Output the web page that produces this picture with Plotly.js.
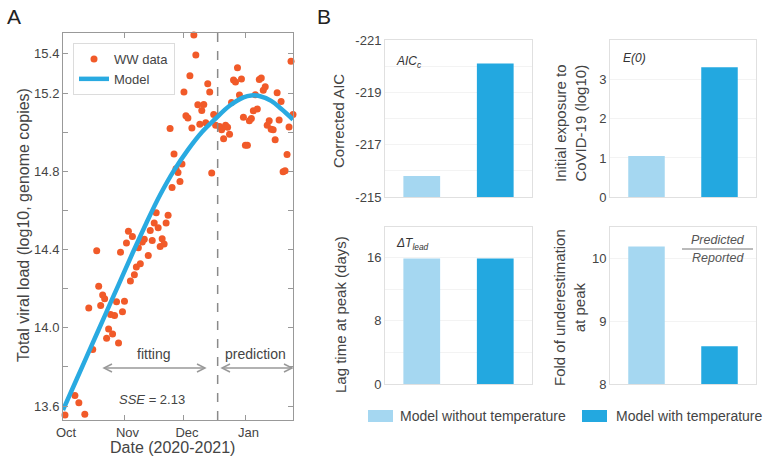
<!DOCTYPE html>
<html>
<head>
<meta charset="utf-8">
<script src="https://cdn.plot.ly/plotly-3.0.1.min.js"></script>
<style>
  html, body { margin: 0; padding: 0; background: white; }
  #chart { width: 768px; height: 461px; }
</style>
</head>
<body>
<div id="chart"></div>
<script>
/* ── Panel A data: wastewater viral load (log10 genome copies) ── */
const WW_DATES = [
  '2020-10-02','2020-10-05','2020-10-07','2020-10-09','2020-10-12','2020-10-14','2020-10-16','2020-10-18',
  '2020-10-19','2020-10-20','2020-10-21','2020-10-22','2020-10-23','2020-10-24','2020-10-25','2020-10-26',
  '2020-10-27','2020-10-28','2020-10-29','2020-10-30','2020-10-31','2020-11-01','2020-11-02','2020-11-03',
  '2020-11-04','2020-11-05','2020-11-06','2020-11-07','2020-11-08','2020-11-09','2020-11-10','2020-11-11',
  '2020-11-13','2020-11-14','2020-11-15','2020-11-16','2020-11-18','2020-11-17','2020-11-19','2020-11-20',
  '2020-11-21','2020-11-22','2020-11-23','2020-11-24','2020-11-25','2020-11-26','2020-11-27','2020-11-28',
  '2020-11-29','2020-11-30','2020-12-01','2020-12-02','2020-12-03','2020-12-04','2020-12-05','2020-12-06',
  '2020-12-07','2020-12-08','2020-12-09','2020-12-10','2020-12-11','2020-12-12','2020-12-13','2020-12-14',
  '2020-12-15','2020-12-16','2020-12-17','2020-12-19','2020-12-20','2020-12-21','2020-12-22','2020-12-23',
  '2020-12-24','2020-12-25','2020-12-26','2020-12-27','2020-12-28','2020-12-29','2020-12-30','2020-12-31',
  '2021-01-01','2021-01-02','2021-01-03','2021-01-04','2021-01-05','2021-01-06','2021-01-07','2021-01-08',
  '2021-01-09','2021-01-10','2021-01-11','2021-01-12','2021-01-13','2021-01-14','2021-01-15','2021-01-16',
  '2021-01-17','2021-01-18','2021-01-19','2021-01-20','2021-01-21','2021-01-22','2021-01-23','2021-01-24',
  '2021-01-25'
];
const WW_LOAD = [
  13.554, 13.525, 13.654, 13.617, 13.559, 14.101, 13.889, 14.394,
  14.213, 14.114, 14.168, 14.149, 13.947, 13.994, 14.068, 13.969,
  14.063, 14.134, 13.922, 14.387, 14.082, 14.136, 14.434, 14.494,
  14.240, 14.467, 14.272, 14.311, 14.410, 14.328, 14.439, 14.453,
  14.370, 14.498, 14.447, 14.536, 14.512, 14.588, 14.416, 14.455,
  14.428, 14.536, 14.576, 15.019, 14.717, 14.889, 14.813, 14.794,
  14.748, 14.838, 15.205, 15.084, 15.072, 15.288, 15.021, 15.497,
  15.395, 15.140, 15.041, 15.111, 15.142, 15.048, 15.247, 15.205,
  14.792, 15.090, 15.035, 15.029, 15.012, 14.967, 15.036, 15.025,
  14.989, 15.152, 15.267, 15.256, 15.330, 15.190, 15.272, 15.077,
  14.933, 14.933, 15.059, 15.070, 15.110, 15.191, 15.119, 15.269,
  15.277, 15.215, 15.232, 15.035, 15.059, 15.015, 15.013, 14.961,
  15.201, 15.062, 15.157, 14.798, 14.803, 14.886, 15.026, 15.363,
  15.091
];

/* model fit (smooth curve) */
const MODEL_DATES = [
  '2020-10-01','2020-10-08','2020-10-15','2020-10-22','2020-10-29','2020-11-05','2020-11-12',
  '2020-11-19','2020-11-26','2020-12-03','2020-12-10','2020-12-17','2020-12-24','2020-12-31',
  '2021-01-04','2021-01-08','2021-01-14','2021-01-19','2021-01-25'
];
const MODEL_LOAD = [
  13.58, 13.74, 13.90, 14.06, 14.22, 14.38, 14.535,
  14.68, 14.805, 14.91, 15.00, 15.07, 15.135, 15.178,
  15.188, 15.185, 15.16, 15.12, 15.065
];

const SPLIT_DATE = '2020-12-18';   // fitting | prediction

const A_YTICKS = [13.6, 14.0, 14.4, 14.8, 15.2, 15.4];
const A_XTICKS = ['2020-10-01', '2020-11-01', '2020-12-01', '2021-01-01'];
const A_XTEXT  = ['Oct', 'Nov', 'Dec', 'Jan'];

/* ── Panel B data ── */
const MODELS = ['Model without temperature', 'Model with temperature'];
const AICC   = [-215.8, -220.1];
const E0     = [1.05, 3.32];
const LAG    = [15.9, 15.9];
const FOLD   = [10.19, 8.6];
const AIC_TICKS = [-221, -219, -217, -215];

const COL_LIGHT = '#a5d7f1';
const COL_DARK  = '#23a8e0';
const COL_PTS   = '#f15a29';
const FONT = 'Arial, "Liberation Sans", sans-serif';
const W = 768, H = 461;

/* pixel -> paper helpers (margins are zero, so paper == figure) */
const px = v => v / W;
const py = v => 1 - v / H;

/* ── traces ── */
const traces = [
  {
    type: 'scatter', mode: 'markers', name: 'WW data',
    x: WW_DATES, y: WW_LOAD, xaxis: 'x', yaxis: 'y',
    marker: { color: COL_PTS, size: 7 }, cliponaxis: false,
  },
  {
    type: 'scatter', mode: 'lines', name: 'Model',
    x: MODEL_DATES, y: MODEL_LOAD, xaxis: 'x', yaxis: 'y',
    line: { color: '#29aae1', width: 4.5, shape: 'spline' },
  },
];

const panels = [
  { vals: AICC, ax: '2' },
  { vals: E0,   ax: '3' },
  { vals: LAG,  ax: '4' },
  { vals: FOLD, ax: '5' },
];
panels.forEach(p => {
  MODELS.forEach((m, mi) => {
    traces.push({
      type: 'bar', name: m, x: [mi], y: [p.vals[mi]], width: 0.5,
      xaxis: 'x' + p.ax, yaxis: 'y' + p.ax,
      marker: { color: mi === 0 ? COL_LIGHT : COL_DARK },
      showlegend: false,
    });
  });
});

/* ── layout helpers ── */
const frameB = { showline: true, mirror: true, linecolor: '#e0e0e0', linewidth: 1, zeroline: false };
const barX = (dom, anchor) => ({ ...frameB, domain: dom, anchor, range: [-0.5, 1.5],
  showticklabels: false, showgrid: false, ticks: '' });
const barY = (dom, anchor, extra) => ({ ...frameB, domain: dom, anchor, ticks: '',
  gridcolor: '#f3f3f3', tickfont: { size: 13, color: '#444' }, ...extra });

const XL = [px(385), px(532)], XR = [px(610), px(756)];
const YT = [py(197), py(40)], YB = [py(384), py(227)];

const txt = (text, x, y, o = {}) => ({ text, x, y, xref: 'paper', yref: 'paper', showarrow: false,
  xanchor: 'center', yanchor: 'middle',
  font: { size: 14, color: '#444', family: FONT }, ...o });

/* open double-headed arrow drawn as shapes, pixel coordinates in */
const arrow = (x0, x1, y) => [
  { type: 'line', xref: 'paper', yref: 'paper', x0: px(x0), x1: px(x1), y0: py(y), y1: py(y),
    line: { color: '#999', width: 1.5 } },
  { type: 'path', xref: 'paper', yref: 'paper',
    path: `M${px(x0 + 8)},${py(y - 4)} L${px(x0)},${py(y)} L${px(x0 + 8)},${py(y + 4)}`,
    line: { color: '#999', width: 1.5 } },
  { type: 'path', xref: 'paper', yref: 'paper',
    path: `M${px(x1 - 8)},${py(y - 4)} L${px(x1)},${py(y)} L${px(x1 - 8)},${py(y + 4)}`,
    line: { color: '#999', width: 1.5 } },
];

const swatch = (x0, color) => ({ type: 'rect', xref: 'paper', yref: 'paper',
  x0: px(x0), x1: px(x0 + 25), y0: py(422), y1: py(410), fillcolor: color, line: { width: 0 } });

const titleA = { size: 16, color: '#444', family: FONT };
const titleB = { size: 15, color: '#444', family: FONT };

const layout = {
  width: W, height: H,
  paper_bgcolor: 'white', plot_bgcolor: 'white',
  font: { family: FONT, size: 13, color: '#444' },
  margin: { l: 0, r: 0, t: 0, b: 0 },
  barmode: 'overlay',
  showlegend: true,
  legend: {
    x: px(73), y: py(43), xanchor: 'left', yanchor: 'top',
    bordercolor: '#dcdcdc', borderwidth: 1, bgcolor: 'white',
    font: { size: 13, color: '#444' }, tracegroupgap: 0,
  },
  /* Panel A */
  xaxis: {
    domain: [px(63), px(293)], anchor: 'y', type: 'date',
    range: ['2020-10-01', '2021-01-25'],
    tickvals: A_XTICKS, ticktext: A_XTEXT, ticklabelshift: 3,
    ticks: 'inside', ticklen: 5, tickcolor: '#999',
    showline: true, mirror: 'ticks', linecolor: '#999', linewidth: 1,
    showgrid: false, zeroline: false, tickfont: { size: 13, color: '#444' },
  },
  yaxis: {
    domain: [py(420), py(33)], anchor: 'x',
    range: [13.529, 15.507],
    tickvals: A_YTICKS, tickformat: '.1f',
    ticks: 'inside', ticklen: 5, tickcolor: '#999',
    minor: { dtick: 0.2, tick0: 13.6, ticks: 'inside', ticklen: 5, tickcolor: '#999', showgrid: false },
    showline: true, mirror: 'ticks', linecolor: '#999', linewidth: 1,
    showgrid: false, zeroline: false, tickfont: { size: 13, color: '#444' },
  },
  /* Panel B */
  xaxis2: barX(XL, 'y2'),
  yaxis2: barY(YT, 'x2', { range: [-215, -221], tickvals: AIC_TICKS, ticktext: AIC_TICKS.map(String),
    minor: { dtick: 1, tick0: -221, showgrid: true, gridcolor: '#f3f3f3' } }),
  xaxis3: barX(XR, 'y3'),
  yaxis3: barY(YT, 'x3', { range: [0, 4.02], tickvals: [0, 1, 2, 3] }),
  xaxis4: barX(XL, 'y4'),
  yaxis4: barY(YB, 'x4', { range: [0, 19.9], tickvals: [0, 8, 16],
    minor: { dtick: 4, tick0: 0, showgrid: true, gridcolor: '#f3f3f3' } }),
  xaxis5: barX(XR, 'y5'),
  yaxis5: barY(YB, 'x5', { range: [8, 10.5], tickvals: [8, 9, 10] }),
  shapes: [
    { type: 'line', xref: 'x', yref: 'y domain', x0: SPLIT_DATE, x1: SPLIT_DATE, y0: 0, y1: 1,
      line: { color: '#8a8a8a', width: 1.5, dash: 'dash' } },
    ...arrow(104, 205, 368),
    ...arrow(222, 292, 368),
    { type: 'line', xref: 'paper', yref: 'paper', x0: px(682), x1: px(753),
      y0: py(249), y1: py(249), line: { color: '#777', width: 1 } },
    swatch(368, COL_LIGHT),
    swatch(582, COL_DARK),
  ],
  annotations: [
    txt('A', px(14), py(16), { font: { size: 21, color: '#222', family: FONT } }),
    txt('B', px(324), py(16), { font: { size: 21, color: '#222', family: FONT } }),
    txt('Total viral load (log10, genome copies)', px(23), py(225), { textangle: -90, font: titleA }),
    txt('Date (2020-2021)', px(172), py(447), { font: titleA }),
    txt('fitting', px(153), py(354)),
    txt('prediction', px(255), py(354)),
    txt('<i>SSE</i> = 2.13', px(152), py(399), { font: { size: 13, color: '#444', family: FONT } }),
    txt('Corrected AIC', px(338), py(121), { textangle: -90, font: titleB }),
    txt('Initial exposure to<br>CoVID-19 (log10)', px(571), py(123), { textangle: -90, font: titleB }),
    txt('Lag time at peak (days)', px(340), py(315), { textangle: -90, font: titleB }),
    txt('Fold of underestimation<br>at peak', px(569), py(308), { textangle: -90, font: titleB }),
    txt('<i>AIC<sub>c</sub></i>', px(394), py(62), { xanchor: 'left', font: { size: 12, color: '#333', family: FONT } }),
    txt('<i>E(0)</i>', px(621), py(58), { xanchor: 'left', font: { size: 12, color: '#333', family: FONT } }),
    txt('<i>ΔT<sub>lead</sub></i>', px(394), py(244), { xanchor: 'left', font: { size: 12, color: '#333', family: FONT } }),
    txt('<i>Predicted</i>', px(718), py(240), { font: { size: 12.5, color: '#555', family: FONT } }),
    txt('<i>Reported</i>', px(718), py(258), { font: { size: 12.5, color: '#555', family: FONT } }),
    txt(MODELS[0], px(398), py(416), { xanchor: 'left' }),
    txt(MODELS[1], px(614), py(416), { xanchor: 'left' }),
  ],
};

Plotly.newPlot('chart', traces, layout, { displayModeBar: false, staticPlot: true });
</script>
</body>
</html>
